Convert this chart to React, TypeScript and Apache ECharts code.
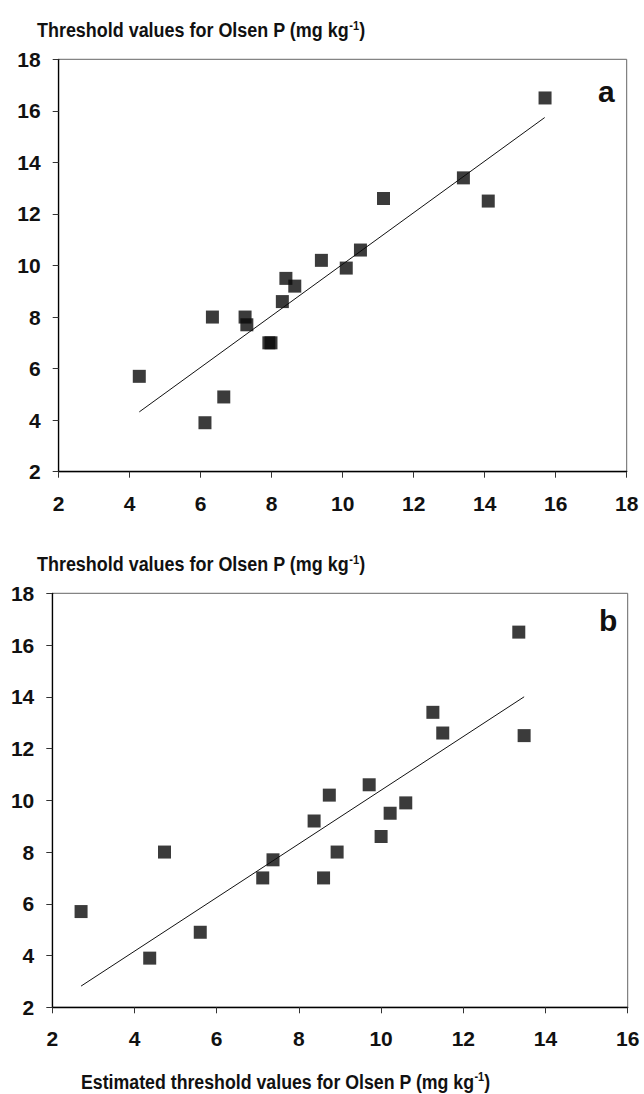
import React, { useEffect, useRef } from "react";
import * as echarts from "echarts";

// Panel a
const A_X = [4.27, 6.12, 6.33, 6.65, 7.25, 7.3, 7.92, 7.98, 8.3, 8.4, 8.65, 9.4, 10.1, 10.5, 11.15, 13.4, 14.1, 15.7];
const A_Y = [5.7, 3.9, 8.0, 4.9, 8.0, 7.7, 7.0, 7.0, 8.6, 9.5, 9.2, 10.2, 9.9, 10.6, 12.6, 13.4, 12.5, 16.5];
const A_FIT_X = [4.27, 15.69];
const A_FIT_Y = [4.32, 15.74];

// Panel b
const B_X = [2.7, 4.37, 4.73, 5.6, 7.12, 7.37, 8.6, 8.37, 8.74, 8.93, 9.71, 10.0, 10.22, 10.6, 11.26, 11.5, 13.35, 13.48];
const B_Y = [5.7, 3.9, 8.0, 4.9, 7.0, 7.7, 7.0, 9.2, 10.2, 8.0, 10.6, 8.6, 9.5, 9.9, 13.4, 12.6, 16.5, 12.5];
const B_FIT_X = [2.7, 13.48];
const B_FIT_Y = [2.82, 14.0];

const Y_TITLE = "Threshold values for Olsen P (mg kg{sup|-1})";
const X_TITLE = "Estimated threshold values for Olsen P (mg kg{sup|-1})";
const PANEL_LABELS = ["a", "b"];

const FONT = '"Liberation Sans", Arial, Helvetica, sans-serif';
const TXT = "#111";

const zip = (xs: number[], ys: number[]) => xs.map((x, i) => [x, ys[i]]);

export default function App() {
  const ref = useRef<HTMLDivElement>(null);
  useEffect(() => {
    if (!ref.current) return;
    const chart = echarts.init(ref.current, null, { renderer: "svg" });

    const axisCommon = (grid: number, min: number, max: number, isX: boolean) => ({
      gridIndex: grid,
      type: "value",
      min,
      max,
      interval: 2,
      axisLine: { show: true, onZero: false, lineStyle: { color: "#000", width: 1.3 } },
      axisTick: { show: true, length: 6, lineStyle: { color: "#333", width: 1 } },
      splitLine: { show: false },
      axisLabel: {
        margin: isX ? 21 : 18,
        fontSize: 21,
        fontWeight: "bold",
        fontFamily: FONT,
        color: TXT,
        showMinLabel: true,
        showMaxLabel: true,
      },
    });

    const richSup = {
      sup: { fontSize: 13, fontWeight: "bold", fontFamily: FONT, fill: TXT, verticalAlign: "top" as const },
    };

    const textEl = (text: string, x: number, y: number, size: number, sx: number) => ({
      type: "text",
      x,
      y,
      scaleX: sx,
      style: {
        text,
        fontSize: size,
        fontWeight: "bold",
        fontFamily: FONT,
        fill: TXT,
        verticalAlign: "middle",
        textAlign: "left",
        rich: richSup,
      },
    });

    chart.setOption({
      animation: false,
      backgroundColor: "#fff",
      grid: [
        { left: 58.7, top: 59.3, width: 568, height: 412.4, show: true, borderColor: "#666", borderWidth: 1 },
        { left: 52.3, top: 593.3, width: 575.4, height: 414, show: true, borderColor: "#666", borderWidth: 1 },
      ],
      xAxis: [axisCommon(0, 2, 18, true), axisCommon(1, 2, 16, true)],
      yAxis: [axisCommon(0, 2, 18, false), axisCommon(1, 2, 18, false)],
      series: [
        {
          type: "line",
          xAxisIndex: 0,
          yAxisIndex: 0,
          data: zip(A_FIT_X, A_FIT_Y),
          showSymbol: false,
          lineStyle: { color: "#111", width: 1 },
          z: 2,
        },
        {
          type: "scatter",
          xAxisIndex: 0,
          yAxisIndex: 0,
          data: zip(A_X, A_Y),
          symbol: "rect",
          symbolSize: 13,
          itemStyle: { color: "#0a0a0a" },
          z: 3,
        },
        {
          type: "line",
          xAxisIndex: 1,
          yAxisIndex: 1,
          data: zip(B_FIT_X, B_FIT_Y),
          showSymbol: false,
          lineStyle: { color: "#111", width: 1 },
          z: 2,
        },
        {
          type: "scatter",
          xAxisIndex: 1,
          yAxisIndex: 1,
          data: zip(B_X, B_Y),
          symbol: "rect",
          symbolSize: 13,
          itemStyle: { color: "#0a0a0a" },
          z: 3,
        },
      ],
      graphic: [
        textEl(Y_TITLE, 37, 29.4, 21, 0.855),
        textEl(Y_TITLE, 37, 563.4, 21, 0.855),
        textEl(X_TITLE, 81, 1081, 21, 0.845),
        textEl(PANEL_LABELS[0], 598, 91.5, 30, 1),
        textEl(PANEL_LABELS[1], 599, 620.3, 30, 1),
      ],
    });

    return () => chart.dispose();
  }, []);

  return (
    <div
      ref={ref}
      style={{ position: "absolute", left: 0, top: 0, width: 644, height: 1094 }}
    />
  );
}
